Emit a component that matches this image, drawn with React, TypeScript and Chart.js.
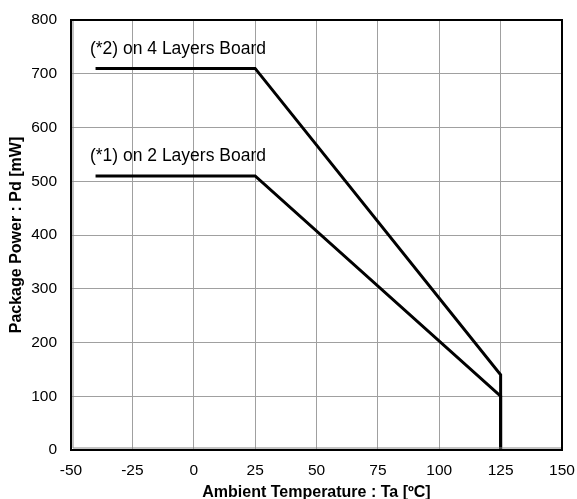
import React, { useEffect, useRef } from "react";
import { Chart, registerables } from "chart.js";

Chart.register(...registerables);

const tempFourLayers = [-40, 25, 125, 125];
const powerFourLayers = [710, 710, 140, 0];
const tempTwoLayers = [-40, 25, 125, 125];
const powerTwoLayers = [510, 510, 100, 0];
const labelFour = "(*2) on 4 Layers Board";
const labelTwo = "(*1) on 2 Layers Board";
const labelPosFour = { x: -42.3, y: 746 };
const labelPosTwo = { x: -42.3, y: 546 };
const xTitle = "Ambient Temperature : Ta [ºC]";
const yTitle = "Package Power : Pd [mW]";

const FONT = "'Liberation Sans', Arial, sans-serif";

export default function App() {
  const ref = useRef<HTMLCanvasElement>(null);
  useEffect(() => {
    document.body.style.margin = "0";
    const frame = {
      id: "frame",
      afterDatasetsDraw(chart: any) {
        const { ctx, chartArea: a, scales } = chart;
        ctx.save();
        ctx.strokeStyle = "#888";
        ctx.lineWidth = 1;
        ctx.beginPath();
        ctx.moveTo(a.left + 2, a.top);
        ctx.lineTo(a.left + 2, a.bottom - 2);
        ctx.lineTo(a.right, a.bottom - 2);
        ctx.stroke();
        ctx.strokeStyle = "#000";
        ctx.lineWidth = 2;
        ctx.strokeRect(a.left, a.top, a.right - a.left, a.bottom - a.top);
        ctx.fillStyle = "#000";
        ctx.font = `17.5px ${FONT}`;
        ctx.textAlign = "left";
        ctx.textBaseline = "middle";
        const xs = scales.x, ys = scales.y;
        ctx.fillText(labelFour, xs.getPixelForValue(labelPosFour.x), ys.getPixelForValue(labelPosFour.y));
        ctx.fillText(labelTwo, xs.getPixelForValue(labelPosTwo.x), ys.getPixelForValue(labelPosTwo.y));
        ctx.restore();
      },
    };
    const chart = new Chart(ref.current!, {
      type: "scatter",
      data: {
        datasets: [
          {
            data: tempFourLayers.map((x, i) => ({ x, y: powerFourLayers[i] })),
            showLine: true,
            borderColor: "#000",
            borderWidth: 3,
            pointRadius: 0,
            borderJoinStyle: "miter",
          },
          {
            data: tempTwoLayers.map((x, i) => ({ x, y: powerTwoLayers[i] })),
            showLine: true,
            borderColor: "#000",
            borderWidth: 3,
            pointRadius: 0,
            borderJoinStyle: "miter",
          },
        ],
      },
      options: {
        animation: false,
        responsive: false,
        maintainAspectRatio: false,
        layout: { padding: { top: 20, right: 15, left: 0, bottom: 0 } },
        plugins: { legend: { display: false }, tooltip: { enabled: false } },
        scales: {
          x: {
            type: "linear",
            min: -50,
            max: 150,
            ticks: { stepSize: 25, color: "#000", font: { family: FONT, size: 15.5 }, padding: 11, maxRotation: 0 },
            grid: { color: "#a0a0a0", lineWidth: 1, drawTicks: false },
            border: { display: false },
            title: { display: true, text: xTitle, color: "#000", font: { family: FONT, size: 16, weight: "bold" }, padding: { top: 0, bottom: -3 } },
            afterFit(scale: any) {
              scale.height = 49;
              scale.paddingLeft = 0;
              scale.paddingRight = 0;
            },
          },
          y: {
            type: "linear",
            min: 0,
            max: 800,
            ticks: { stepSize: 100, color: "#000", font: { family: FONT, size: 15.5 }, padding: 14 },
            grid: { color: "#a0a0a0", lineWidth: 1, drawTicks: false },
            border: { display: false },
            title: { display: true, text: yTitle, color: "#000", font: { family: FONT, size: 16, weight: "bold" }, padding: { top: 7, bottom: 0 } },
            afterFit(scale: any) {
              scale.width = 71;
              scale.paddingTop = 0;
              scale.paddingBottom = 0;
            },
          },
        },
      },
      plugins: [frame],
    } as any);
    return () => chart.destroy();
  }, []);
  return (
    <div style={{ width: 577, height: 499 }}>
      <canvas ref={ref} width={577} height={499} style={{ display: "block" }} />
    </div>
  );
}
